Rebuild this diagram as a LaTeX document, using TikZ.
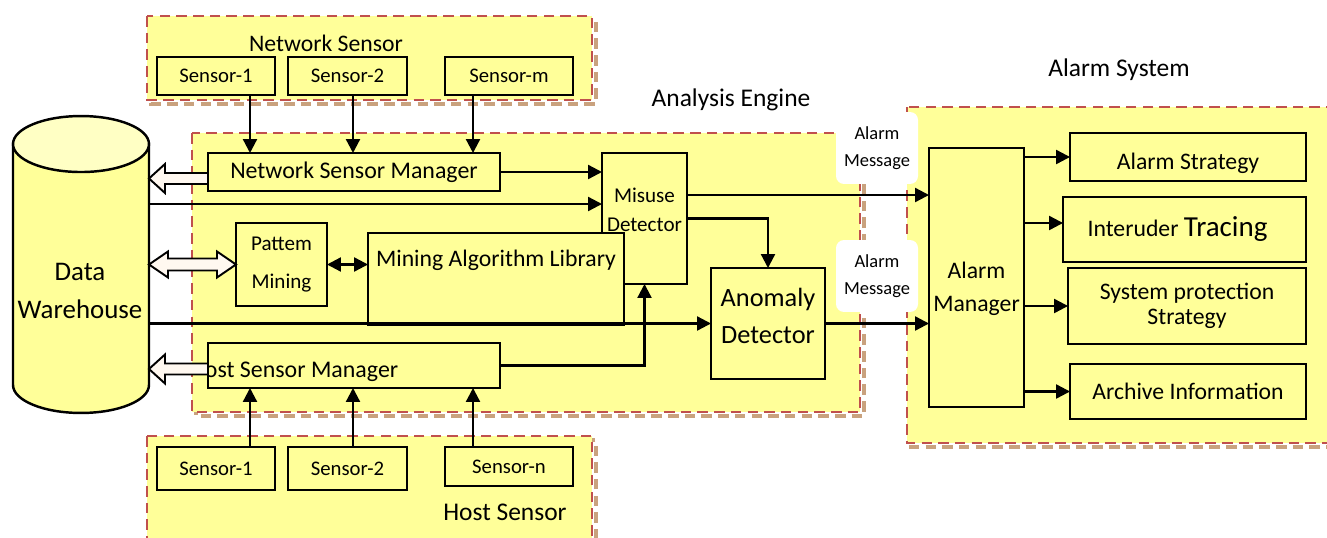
\documentclass[tikz,border=0pt]{standalone}
\usepackage{fontspec}
\setmainfont{Carlito}
\usetikzlibrary{arrows.meta,calc}
\definecolor{boxfill}{HTML}{FFFF99}
\definecolor{grpfill}{HTML}{FFFF99}
\definecolor{cylend}{HTML}{FFFFC4}
\definecolor{dashred}{HTML}{C0504D}
\definecolor{shade}{HTML}{C9A27E}
\definecolor{hollowfill}{HTML}{FFF8F0}
% outline arrow pointing left, tail at #1, tip at the x of #2
\newcommand{\hollowleft}[2]{%
  \filldraw[hollow] let \p1=(#1), \p2=(#2) in
    (\x1,\y1+0.11cm) -- (\x2+0.32cm,\y1+0.11cm) -- (\x2+0.32cm,\y1+0.29cm)
    -- (\x2,\y1) -- (\x2+0.32cm,\y1-0.29cm) -- (\x2+0.32cm,\y1-0.11cm)
    -- (\x1,\y1-0.11cm) -- cycle;}
% outline arrow with two heads, between the x of #1 and #2
\newcommand{\hollowboth}[2]{%
  \filldraw[hollow] let \p1=(#1), \p2=(#2) in
    (\x1,\y2) -- (\x1+0.38cm,\y2+0.26cm) -- (\x1+0.38cm,\y2+0.12cm)
    -- (\x2-0.38cm,\y2+0.12cm) -- (\x2-0.38cm,\y2+0.26cm) -- (\x2,\y2)
    -- (\x2-0.38cm,\y2-0.26cm) -- (\x2-0.38cm,\y2-0.12cm)
    -- (\x1+0.38cm,\y2-0.12cm) -- (\x1+0.38cm,\y2-0.26cm) -- cycle;}

\begin{document}
\begin{tikzpicture}[x=0.02cm, y=-0.02cm,
  every node/.style={inner sep=0pt, outer sep=0pt},
  grp/.style={fill=grpfill, draw=dashred, line width=1.4pt,
    dash pattern=on 6pt off 3.5pt},
  grpshadow/.style={draw=shade, line width=2.8pt, dash pattern=on 6pt off 3.5pt},
  box/.style={draw, fill=boxfill, line width=1.4pt, align=center},
  sensor/.style={box, minimum width=2.36cm, minimum height=0.76cm,
    font=\fontsize{11.8}{14}\selectfont},
  result/.style={box, minimum width=4.72cm, font=\fontsize{13.5}{14.2}\selectfont},
  msg/.style={fill=white, rounded corners=0.16cm, minimum width=1.64cm,
    minimum height=1.44cm, align=center, font=\fontsize{10.5}{15.4}\selectfont},
  grpcap/.style={font=\fontsize{14.5}{17}\selectfont},
  mgrtext/.style={draw=none, fill=none, minimum width=0pt, minimum height=0pt,
    inner sep=0pt, font=\fontsize{13.6}{16}\selectfont},
  flow/.style={-{Triangle[length=0.28cm,width=0.28cm]}, line width=1.3pt},
  hollow/.style={draw, fill=hollowfill, line width=1.1pt, line join=miter}
]
\clip (0,0) rectangle (1327,537);

% groups
\foreach \a/\b/\c/\d in {147/16/592/100, 192/133/860/412,
    907/107/1345/443, 147/436/592/547} {
  \draw[grpshadow] (\a+4,\b+4) rectangle (\c+4,\d+4);
  \filldraw[grp] (\a,\b) rectangle (\c,\d);
}
\node[grpcap, font=\fontsize{13.5}{16}\selectfont] (netcap) at (326,43) {Network Sensor};
\node[grpcap] (anacap) at (731,100) {Analysis Engine};
\node[grpcap] (alarmcap) at (1119,70) {Alarm System};
\node[grpcap] (hostcap) at (505,512) {Host Sensor};

% data warehouse
\node[minimum width=2.72cm, minimum height=5.94cm] (dw) at (81,264.5) {};
\filldraw[fill=boxfill, line width=1.4pt] ([yshift=-0.56cm]dw.north west)
  -- ([yshift=0.56cm]dw.south west)
  arc[start angle=180, end angle=360, x radius=1.36cm, y radius=0.56cm]
  -- ([yshift=-0.56cm]dw.north east) -- cycle;
\filldraw[fill=cylend, line width=1.4pt] ([yshift=-0.56cm]dw.north)
  ellipse[x radius=1.36cm, y radius=0.56cm];
\node[font=\fontsize{15.3}{21.6}\selectfont, align=center] (dwtext) at (80,291)
  {Data\\Warehouse};

% sensors
\node[sensor] (ns1) at (216,76) {Sensor-1};
\node[sensor, minimum width=2.38cm] (ns2) at (347.5,76) {Sensor-2};
\node[sensor, minimum width=2.56cm] (nsm) at (509,76) {Sensor-m};
\node[sensor, minimum height=0.86cm] (hs1) at (216,468.5) {Sensor-1};
\node[sensor, minimum width=2.38cm, minimum height=0.86cm] (hs2) at (347.5,468.5) {Sensor-2};
\node[sensor, minimum width=2.56cm, minimum height=0.78cm] (hsn) at (509,466.5) {Sensor-n};

% analysis engine
\node[box, minimum width=5.84cm, minimum height=0.76cm,
  path picture={\node[mgrtext, anchor=base] at
    ([yshift=-0.12cm]path picture bounding box.center) {Network Sensor Manager};}]
  (netmgr) at (354,172) {};
\node[box, minimum width=5.84cm, minimum height=0.9cm,
  path picture={\node[mgrtext, anchor=base west] at
    ([xshift=-0.36cm,yshift=-0.23cm]path picture bounding box.west) {Host Sensor Manager};}]
  (hostmgr) at (354,365.5) {};
\node[box, minimum width=1.7cm, minimum height=2.62cm,
  label={[font=\fontsize{12}{16.5}\selectfont, align=center,
    yshift=0.18cm]center:Misuse\\Detector}] (mis) at (644.5,218.5) {};
\node[box, minimum width=5.12cm, minimum height=1.84cm,
  label={[font=\fontsize{13.5}{16}\selectfont, yshift=0.38cm]center:Mining Algorithm Library}]
  (mal) at (496,279) {};
\node[box, minimum width=1.82cm, minimum height=1.66cm,
  font=\fontsize{12}{21.6}\selectfont] (pat) at (281.5,264.5) {Pattem\\Mining};
\node[box, minimum width=2.28cm, minimum height=2.22cm,
  label={[font=\fontsize{15}{21}\selectfont, align=center,
    yshift=0.16cm]center:Anomaly\\Detector}] (ano) at (768,323.5) {};

% alarm system
\node[box, minimum width=1.9cm, minimum height=5.18cm,
  label={[font=\fontsize{13.5}{18.8}\selectfont, align=center,
    yshift=-0.22cm]center:Alarm\\Manager}] (am) at (976.5,277.5) {};
\node[result, minimum height=0.96cm, text height=0.5cm, text depth=0cm] (ast) at (1188,157)
  {Alarm Strategy};
\node[result, minimum width=4.86cm, minimum height=1.3cm] (itr) at (1184.5,229.5)
  {Interuder {\fontsize{16.5}{19}\selectfont Tracing}\hspace{0.28cm}};
\node[result, minimum width=4.76cm, minimum height=1.52cm] (spt) at (1187,306)
  {System protection\\Strategy};
\node[result, minimum height=1.1cm] (arc) at (1188,391.5) {Archive Information};

\node[msg] (msg1) at (877,148) {Alarm\\Message};
\node[msg] (msg2) at (877,276) {Alarm\\Message};

% sensor arrows
\draw[flow] ([xshift=0.68cm]ns1.south) -- ([xshift=0.68cm]ns1.south |- netmgr.north);
\draw[flow] ([xshift=0.11cm]ns2.south) -- ([xshift=0.11cm]ns2.south |- netmgr.north);
\draw[flow] ([xshift=-0.72cm]nsm.south) -- ([xshift=-0.72cm]nsm.south |- netmgr.north);
\draw[flow] ([xshift=0.68cm]hs1.north) -- ([xshift=0.68cm]hs1.north |- hostmgr.south);
\draw[flow] ([xshift=0.11cm]hs2.north) -- ([xshift=0.11cm]hs2.north |- hostmgr.south);
\draw[flow] ([xshift=-0.72cm]hsn.north) -- ([xshift=-0.72cm]hsn.north |- hostmgr.south);

% engine arrows
\coordinate (misin) at ([yshift=0.29cm]mis.west);
\coordinate (misout) at ([yshift=0.47cm]mis.east);
\coordinate (itrin) at ([yshift=0.13cm]itr.west);
\draw[flow] (netmgr.east) -- (netmgr.east -| mis.west);
\draw[flow] (dw.east |- misin) -- (misin);
\draw[flow] (dw.east |- ano.west) -- (ano.west);
\draw[flow] (hostmgr.east) -| (mis.south);
\draw[flow] (mis.east) -| (ano.north);
\draw[{Triangle[length=0.28cm,width=0.28cm]}-{Triangle[length=0.28cm,width=0.28cm]},
  line width=1.3pt] (pat.east) -- (pat.east -| mal.west);
\draw[flow] (misout) -- (misout -| am.west);
\draw[flow] (ano.east) -- (ano.east -| am.west);

% alarm arrows
\draw[flow] (am.east |- ast.west) -- (ast.west);
\draw[flow] (am.east |- itrin) -- (itrin);
\draw[flow] (am.east |- spt.west) -- (spt.west);
\draw[flow] (am.east |- arc.west) -- (arc.west);

% warehouse links
\hollowleft{[yshift=-0.13cm]netmgr.west}{dw.east}
\hollowleft{[yshift=-0.07cm]hostmgr.west}{dw.east}
\hollowboth{dw.east}{pat.west}
\end{tikzpicture}
\end{document}
